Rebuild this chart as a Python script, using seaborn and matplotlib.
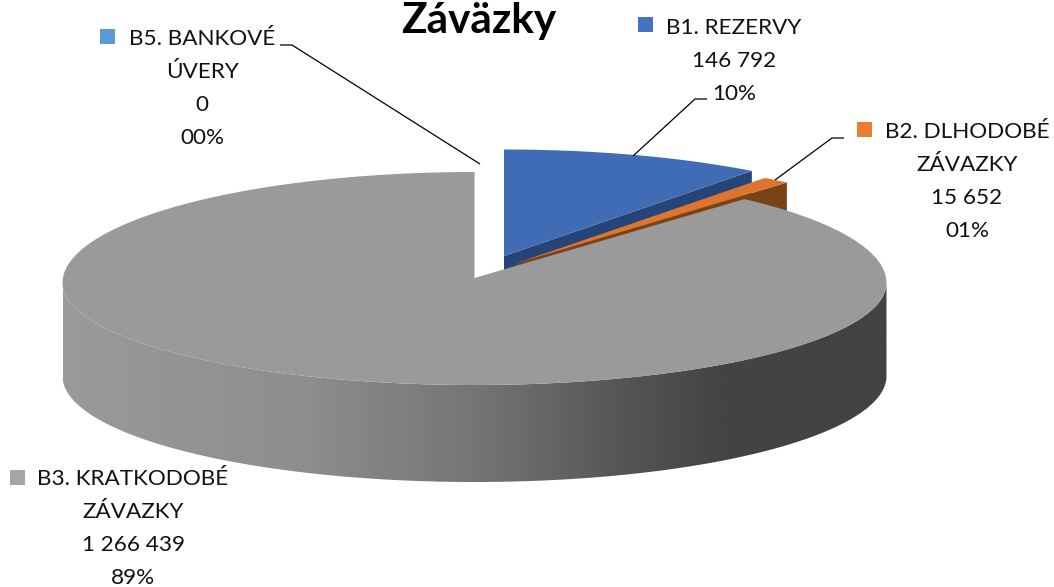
import numpy as np
import matplotlib
matplotlib.use("Agg")
import matplotlib.pyplot as plt
from matplotlib.colors import LinearSegmentedColormap
from matplotlib.patches import Polygon, Rectangle
import seaborn as sns

# ---- data ----
names = ["B1. REZERVY", "B2. DLHODOBÉ ZÁVAZKY", "B3. KRATKODOBÉ ZÁVAZKY", "B5. BANKOVÉ ÚVERY"]
values = [146792, 15652, 1266439, 0]
label_lines = [["B1. REZERVY"], ["B2. DLHODOBÉ", "ZÁVAZKY"], ["B3. KRATKODOBÉ", "ZÁVAZKY"], ["B5. BANKOVÉ", "ÚVERY"]]
title = "Záväzky"

# ---- styles / layout ----
top_colors = ["#3F6CB5", "#DE752C", "#9A9A9A", "#5B9BD5"]
side_colors = ["#264478", "#7A4317", None, None]
key_colors = ["#4472C4", "#ED7D31", "#A5A5A5", "#5B9BD5"]
centers = [(504, 256), (517, 263), (474.5, 278), (474.5, 278)]
RX, RY, DEPTH = 412, 106.5, 97
# perspective of the large slice: rim centre height, back / front radii
GREY_CY, GREY_BACK, GREY_FRONT = 283, 111, 102
FLOOR_CY, FLOOR_RY = 376, 106
label_x = [734, 967, 133, 202]
label_y = [28, 132, 479, 39]
key_xy = [(638, 17), (857, 122), (10, 470), (100, 29)]
LINE_H = 33
leaders = [[(707, 99), (695, 99), (633, 156)],
           [(844, 138), (832, 138), (775, 180)],
           [], [(280, 45), (292, 45), (480, 164)]]

sns.set_theme(style="white")
plt.rcParams["font.family"] = ["Lato", "DejaVu Sans"]

fig = plt.figure(figsize=(10.54, 5.87), dpi=100)
ax = fig.add_axes([0, 0, 1, 1])
ax.set_xlim(0, 1054)
ax.set_ylim(587, 0)
ax.axis("off")


def arc(center, a0, a1, n=200):
    t = np.radians(np.linspace(a0, a1, n))
    return np.column_stack([center[0] + RX * np.sin(t), center[1] - RY * np.cos(t)])


def grey_rim(cx, a0, a1, n=300):
    t = np.radians(np.linspace(a0, a1, n))
    cos_t = np.cos(t)
    ry = np.where(cos_t > 0, GREY_BACK, GREY_FRONT)
    return np.column_stack([cx + RX * np.sin(t), GREY_CY - ry * cos_t])


def floor_rim(cx, a0, a1, n=300):
    t = np.radians(np.linspace(a0, a1, n))
    return np.column_stack([cx + RX * np.sin(t), FLOOR_CY - FLOOR_RY * np.cos(t)])


total = sum(values)
edges = np.concatenate([[0], np.cumsum(values) / total * 360])


def draw_slice(i):
    c, a0, a1 = centers[i], edges[i], edges[i + 1]
    end = arc(c, a1, a1, 1)[0]
    face = [c, end, (end[0], end[1] + DEPTH), (c[0], c[1] + DEPTH)]
    ax.add_patch(Polygon(face, closed=True, fc=side_colors[i], ec="none", zorder=2 + i))
    pts = np.vstack([[c], arc(c, a0, a1)])
    ax.add_patch(Polygon(pts, closed=True, fc=top_colors[i], ec="none", zorder=3 + i))


draw_slice(0)
draw_slice(1)

# grey slice wall with its horizontal shading
c = centers[2]
wall = np.vstack([grey_rim(c[0], 90, 270), floor_rim(c[0], 270, 90)])
wall_patch = Polygon(wall, closed=True, fc="none", ec="none", transform=ax.transData)
ax.add_patch(wall_patch)
stops = [(0, "#9A9A9A"), (0.29, "#8E8E8E"), (0.5, "#757575"), (0.68, "#555555"), (0.8, "#444444"), (1, "#424242")]
cmap = LinearSegmentedColormap.from_list("wall", stops)
grad = np.linspace(0, 1, 512).reshape(1, -1)
im = ax.imshow(grad, cmap=cmap, aspect="auto", extent=(c[0] - RX, c[0] + RX, 490, 170),
               zorder=6, interpolation="bilinear")
im.set_clip_path(wall_patch)
ax.set_xlim(0, 1054)
ax.set_ylim(587, 0)

# grey top
top_pts = np.vstack([[c], grey_rim(c[0], edges[2], edges[3])])
ax.add_patch(Polygon(top_pts, closed=True, fc=top_colors[2], ec="none", zorder=7))

# leaders
for pts in leaders:
    if pts:
        ax.plot(*zip(*pts), color="black", lw=0.9, zorder=8, solid_capstyle="butt")

# labels
shares = [v / total * 100 for v in values]
for i in range(len(values)):
    lines = label_lines[i] + [f"{values[i]:,}".replace(",", " "), f"{shares[i]:02.0f}%"]
    for j, line in enumerate(lines):
        ax.text(label_x[i], label_y[i] + j * LINE_H, line, ha="center", va="center",
                fontsize=16.2, color="#111111", zorder=9)
    ax.add_patch(Rectangle(key_xy[i], 15, 15, fc=key_colors[i], ec="none", zorder=9))

ax.text(479, 21, title, ha="center", va="center", fontsize=30.4, fontweight="bold", color="black", zorder=9)

fig.savefig("out.png", dpi=100, facecolor="white")
